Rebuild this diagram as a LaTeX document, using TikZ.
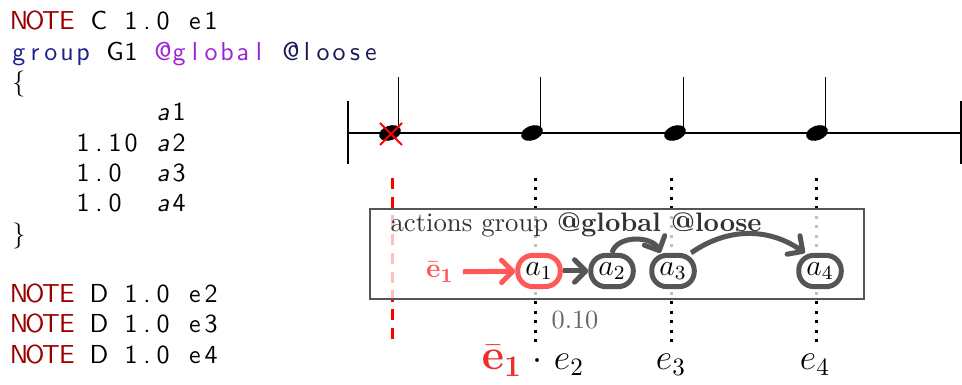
\documentclass[tikz,border=0pt]{standalone}
\usetikzlibrary{arrows.meta}
\definecolor{notered}{RGB}{153,0,0}
\definecolor{grpblue}{RGB}{30,30,140}
\definecolor{glbpurple}{RGB}{155,35,215}
\definecolor{loosenavy}{RGB}{25,25,85}
\definecolor{actred}{RGB}{255,88,88}
\definecolor{evred}{RGB}{238,45,45}
\definecolor{actgray}{RGB}{85,85,85}
\definecolor{labgray}{RGB}{100,100,100}
% one character per column, as in the listing
\newcommand\codeline[4]{%
  \foreach \ch [count=\k from 0] in {#4}
    \node[codech,text=#3] (c-#2-#1-\k) at ({19+16*(#1+\k)},{-30-30.3*#2}) {\ch};
}
\begin{document}
\begin{tikzpicture}[x=0.4pt,y=0.4pt,
    codech/.style={anchor=base,inner sep=0pt,font=\fontsize{10.4}{12}\selectfont\sffamily},
    staff/.style={line width=0.5pt},
    beat/.style={line width=1.2pt,dash pattern=on 1.2pt off 2.6pt},
    act/.style={draw=actgray,line width=2pt,rounded corners=6pt,fill=white,
      minimum width=17pt,minimum height=12.5pt,inner sep=1pt,font=\fontsize{12}{14}\selectfont},
    grayarrow/.style={draw=actgray,line width=2pt,-{Straight Barb[length=4.5pt,width=9pt,round]}},
    redarrow/.style={draw=actred,line width=2pt,-{Straight Barb[length=4.5pt,width=9pt,round]}},
    lab/.style={anchor=base,inner sep=0pt,font=\fontsize{14.4}{16}\selectfont}]
  \useasboundingbox (0,0) rectangle (962,-385);

  \codeline{0}{0}{notered}{N,O,T,E}
  \codeline{5}{0}{black}{C}
  \codeline{7}{0}{black}{1,.,0}
  \codeline{11}{0}{black}{e,1}
  \codeline{0}{1}{grpblue}{g,r,o,u,p}
  \codeline{6}{1}{black}{G,1}
  \codeline{9}{1}{glbpurple}{@,g,l,o,b,a,l}
  \codeline{17}{1}{loosenavy}{@,l,o,o,s,e}
  \codeline{0}{2}{black}{\{}
  \codeline{9}{3}{black}{\textit{a},1}
  \codeline{4}{4}{black}{1,.,1,0}
  \codeline{9}{4}{black}{\textit{a},2}
  \codeline{4}{5}{black}{1,.,0}
  \codeline{9}{5}{black}{\textit{a},3}
  \codeline{4}{6}{black}{1,.,0}
  \codeline{9}{6}{black}{\textit{a},4}
  \codeline{0}{7}{black}{\}}
  \foreach \l/\e in {9/2,10/3,11/4} {
    \codeline{0}{\l}{notered}{N,O,T,E}
    \codeline{5}{\l}{black}{D}
    \codeline{7}{\l}{black}{1,.,0}
    \codeline{11}{\l}{black}{e,\e}
  }

  % staff and notes
  \draw[staff] (348,-133) -- (961,-133);
  \draw[staff] (348,-101) -- (348,-164);
  \draw[staff] (961,-101) -- (961,-164);
  \foreach \nx in {390,532,675,817} {
    \fill (\nx,-133) ellipse [x radius=4.5pt,y radius=2.9pt,rotate=20];
    \draw[staff] (\nx+8.5,-133) -- (\nx+8.5,-77);
  }
  \draw[red,line width=0.8pt] (380,-123) -- (402,-145) (380,-145) -- (402,-123);

  \draw[red,line width=1.2pt,dash pattern=on 4.5pt off 3pt] (392,-178) -- (392,-340);
  \foreach \x in {535,671,816}
    \draw[beat] (\x,-178) -- (\x,-343);

  % actions group
  \draw[draw=actgray,line width=0.5pt,fill=white,fill opacity=0.75] (370,-209) rectangle (864,-299);
  \node[anchor=base west,inner sep=0pt,font=\fontsize{10.7}{12}\selectfont,text=black!80] (title)
    at (390,-232) {actions group \textbf{@global @loose}};

  \node[text=actred,font=\fontsize{11}{12}\selectfont] (ein) at (440,-272) {$\bar{\mathbf{e}}_{\mathbf{1}}$};
  \node[act,draw=actred] (a1) at (539,-271) {$a_1$};
  \node[act] (a2) at (612,-271) {$a_2$};
  \node[act] (a3) at (673,-271) {$a_3$};
  \node[act] (a4) at (820,-271) {$a_4$};

  \draw[redarrow] (ein) -- (a1);
  \draw[grayarrow] (a1) -- (a2);
  \draw[grayarrow] (a2.north) to[out=75,in=115] (a3.125);
  \draw[grayarrow] (a3.45) to[bend left=35] (a4.130);

  \node[text=labgray,font=\fontsize{10.5}{12}\selectfont] (gap) at (575,-320) {0.10};

  % events below
  \node[lab,text=evred,font=\fontsize{17}{19}\selectfont] (ebar) at (502,-370) {$\bar{\mathbf{e}}_{\mathbf{1}}$};
  \node[lab] (dot) at (537,-370) {$\cdot$};
  \node[lab] (e2) at (569,-370) {$e_2$};
  \node[lab] (e3) at (671,-370) {$e_3$};
  \node[lab] (e4) at (815,-370) {$e_4$};
\end{tikzpicture}
\end{document}
